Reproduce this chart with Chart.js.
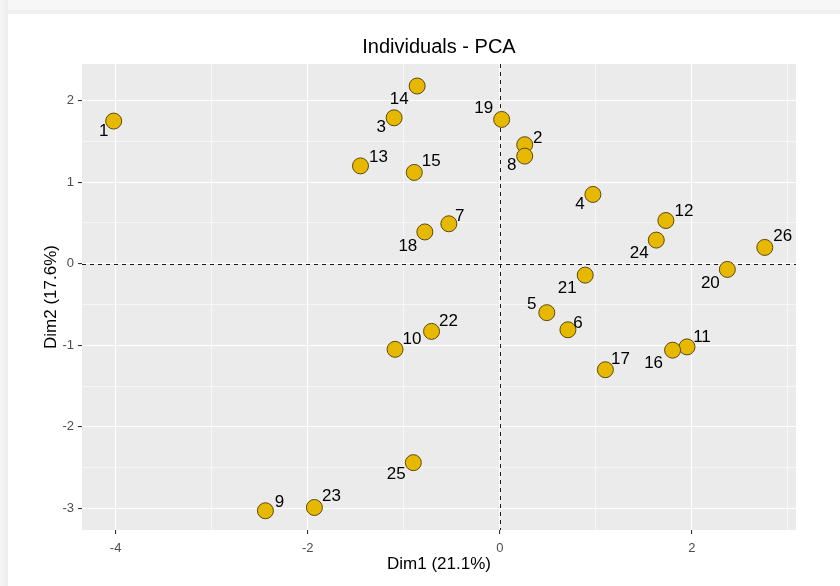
<!DOCTYPE html>
<html>
<head>
<meta charset="utf-8">
<title>Individuals - PCA</title>
<script src="https://cdn.jsdelivr.net/npm/chart.js@4.4.1/dist/chart.umd.min.js"></script>
<style>
  html, body { margin: 0; padding: 0; background: #fff; }
  body { width: 840px; height: 586px; position: relative; overflow: hidden; }
  .top-strip { position: absolute; left: 0; top: 0; width: 840px; height: 10px; background: #f7f7f7; border-bottom: 4px solid #efefef; }
  .left-strip { position: absolute; left: 0; top: 0; width: 8px; height: 586px; background: linear-gradient(to right, #f5f5f5, #ececec); }
  #wrap { position: absolute; left: 0; top: 0; width: 840px; height: 586px; }
</style>
</head>
<body>
<div class="top-strip"></div>
<div class="left-strip"></div>
<div id="wrap"><canvas id="pca"></canvas></div>
<script>
// --- Data ---
const ids  = ['1','2','3','4','5','6','7','8','9','10','11','12','13',
              '14','15','16','17','18','19','20','21','22','23','24','25','26'];
const dim1 = [-4.02, 0.26, -1.10, 0.97, 0.49, 0.71, -0.53, 0.26, -2.44, -1.09, 1.95, 1.73, -1.45,
              -0.86, -0.89, 1.80, 1.10, -0.78, 0.02, 2.37, 0.89, -0.71, -1.93, 1.63, -0.90, 2.76];
const dim2 = [1.75, 1.46, 1.79, 0.85, -0.60, -0.81, 0.49, 1.32, -3.03, -1.05, -1.02, 0.53, 1.20,
              2.18, 1.12, -1.06, -1.30, 0.39, 1.77, -0.07, -0.14, -0.83, -2.99, 0.29, -2.44, 0.20];

const xMajor = [-4, -2, 0, 2];
const xMinor = [-3, -1, 1, 3];
const yMajor = [-3, -2, -1, 0, 1, 2];
const yMinor = [-2.5, -1.5, -0.5, 0.5, 1.5];

// where each label sits relative to its point (px), like ggrepel placed them
const labelOffsets = {
  '1': [-10, 10], '2': [13, -6], '3': [-13, 10], '4': [-13, 10], '5': [-15, -8],
  '6': [10, -6], '7': [11, -7], '8': [-13, 9], '9': [14, -8], '10': [17, -10],
  '11': [15, -10], '12': [18, -9], '13': [18, -9], '14': [-18, 13], '15': [17, -11],
  '16': [-19, 13], '17': [15, -10], '18': [-17, 14], '19': [-18, -11], '20': [-17, 14],
  '21': [-18, 13], '22': [17, -10], '23': [17, -11], '24': [-17, 13], '25': [-17, 12],
  '26': [18, -11]
};

const FONT = '"Liberation Sans", Arial, sans-serif';

// grey panel like ggplot
const panelBg = {
  id: 'panelBg',
  beforeDraw(chart) {
    const { ctx, chartArea: a } = chart;
    ctx.save();
    ctx.fillStyle = '#ebebeb';
    ctx.fillRect(a.left, a.top, a.right - a.left, a.bottom - a.top);
    ctx.restore();
  }
};

// dashed lines through the origin
const zeroLines = {
  id: 'zeroLines',
  beforeDatasetsDraw(chart) {
    const { ctx, chartArea: a, scales } = chart;
    const x0 = Math.round(scales.x.getPixelForValue(0)) + 0.5;
    const y0 = Math.round(scales.y.getPixelForValue(0)) + 0.5;
    ctx.save();
    ctx.strokeStyle = '#1a1a1a';
    ctx.lineWidth = 1;
    ctx.setLineDash([4, 4]);
    ctx.beginPath();
    ctx.moveTo(a.left, y0); ctx.lineTo(a.right, y0);
    ctx.moveTo(x0, a.top); ctx.lineTo(x0, a.bottom);
    ctx.stroke();
    ctx.restore();
  }
};

const pointLabels = {
  id: 'pointLabels',
  afterDatasetsDraw(chart) {
    const { ctx } = chart;
    const meta = chart.getDatasetMeta(0);
    ctx.save();
    ctx.font = '17px ' + FONT;
    ctx.fillStyle = '#000';
    ctx.textAlign = 'center';
    ctx.textBaseline = 'middle';
    meta.data.forEach((pt, i) => {
      const off = labelOffsets[ids[i]] || [12, -8];
      ctx.fillText(ids[i], pt.x + off[0], pt.y + off[1]);
    });
    ctx.restore();
  }
};

const points = dim1.map((x, i) => ({ x: x, y: dim2[i] }));
const isMajor = (list, v) => list.some(m => Math.abs(m - v) < 1e-9);

new Chart(document.getElementById('pca'), {
  type: 'scatter',
  data: {
    datasets: [{
      data: points,
      backgroundColor: '#E7B800',
      borderColor: '#5b4a10',
      borderWidth: 1,
      pointRadius: 8,
      pointHoverRadius: 8
    }]
  },
  options: {
    responsive: true,
    maintainAspectRatio: false,
    animation: false,
    layout: { padding: { top: 0, right: 44, bottom: 0, left: 0 } },
    plugins: {
      legend: { display: false },
      tooltip: { enabled: false },
      title: {
        display: true,
        text: 'Individuals - PCA',
        color: '#000',
        fullSize: false,
        font: { family: FONT, size: 20, weight: 'normal' },
        padding: { top: 35, bottom: 5 }
      }
    },
    scales: {
      x: {
        type: 'linear',
        min: -4.35,
        max: 3.085,
        afterBuildTicks: s => { s.ticks = xMajor.concat(xMinor).sort((a, b) => a - b).map(v => ({ value: v })); },
        afterFit: s => { s.height = 56; },
        border: { display: false },
        grid: {
          color: '#ffffff',
          lineWidth: c => isMajor(xMajor, c.tick.value) ? 1.1 : 0.55,
          tickColor: c => isMajor(xMajor, c.tick.value) ? '#333333' : 'rgba(0,0,0,0)',
          tickLength: 4,
          drawTicks: true
        },
        ticks: {
          color: '#4d4d4d',
          padding: 7,
          maxRotation: 0,
          autoSkip: false,
          font: { family: FONT, size: 13 },
          callback: v => isMajor(xMajor, v) ? String(v) : ''
        },
        title: {
          display: true,
          text: 'Dim1 (21.1%)',
          color: '#000',
          font: { family: FONT, size: 17 },
          padding: { top: 0, bottom: 11 }
        }
      },
      y: {
        type: 'linear',
        min: -3.266,
        max: 2.45,
        afterBuildTicks: s => { s.ticks = yMajor.concat(yMinor).sort((a, b) => a - b).map(v => ({ value: v })); },
        afterFit: s => { s.width = 82; },
        border: { display: false },
        grid: {
          color: '#ffffff',
          lineWidth: c => isMajor(yMajor, c.tick.value) ? 1.1 : 0.55,
          tickColor: c => isMajor(yMajor, c.tick.value) ? '#333333' : 'rgba(0,0,0,0)',
          tickLength: 4,
          drawTicks: true
        },
        ticks: {
          color: '#4d4d4d',
          padding: 4,
          autoSkip: false,
          font: { family: FONT, size: 13 },
          callback: v => isMajor(yMajor, v) ? String(v) : ''
        },
        title: {
          display: true,
          text: 'Dim2 (17.6%)',
          color: '#000',
          font: { family: FONT, size: 17 },
          padding: { top: 41, bottom: 0 }
        }
      }
    }
  },
  plugins: [panelBg, zeroLines, pointLabels]
});
</script>
</body>
</html>
